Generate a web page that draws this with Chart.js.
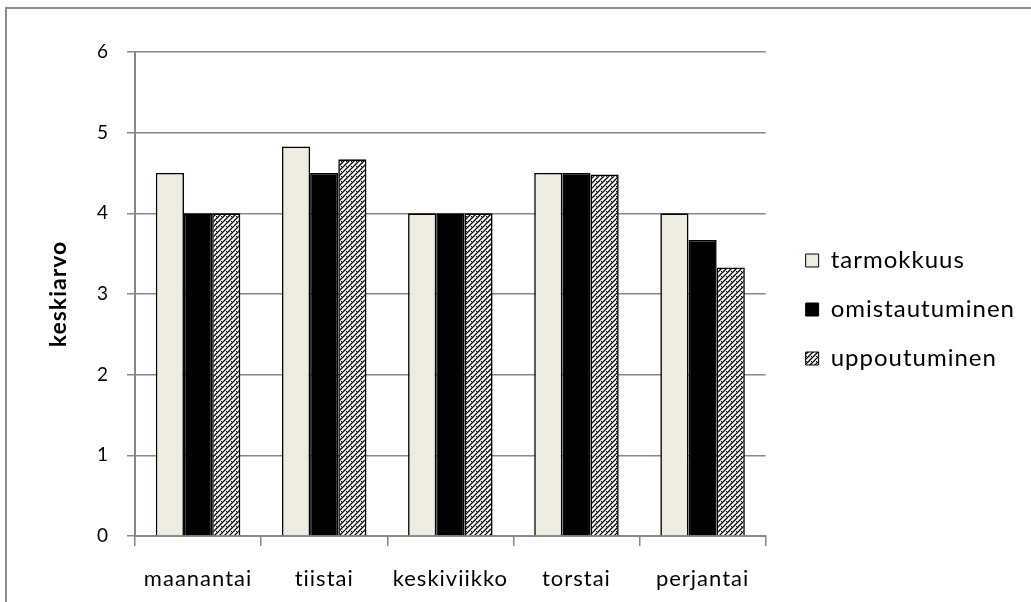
<!DOCTYPE html>
<html>
<head>
<meta charset="utf-8">
<script src="https://cdn.jsdelivr.net/npm/chart.js@4/dist/chart.umd.min.js"></script>
<style>
  html, body { margin: 0; padding: 0; background: #fff; }
  #wrap { position: relative; width: 1031px; height: 602px; }
</style>
</head>
<body>
<div id="wrap"><canvas id="c" width="1031" height="602"></canvas></div>
<script>
// Weekday averages for three work-engagement dimensions
const categories = ['maanantai', 'tiistai', 'keskiviikko', 'torstai', 'perjantai'];
const seriesNames = ['tarmokkuus', 'omistautuminen', 'uppoutuminen'];
const tarmokkuus = [4.5, 4.83, 4.0, 4.5, 4.0];
const omistautuminen = [4.0, 4.5, 4.0, 4.5, 3.67];
const uppoutuminen = [4.0, 4.67, 4.0, 4.48, 3.33];
const yTicks = [0, 1, 2, 3, 4, 5, 6];

const FONT = 'Lato, "Open Sans", "DejaVu Sans", sans-serif';
const GRID = '#868686';

// Diagonal hatch fill for the third series
function makeHatch() {
  const t = document.createElement('canvas');
  t.width = 5; t.height = 5;
  const g = t.getContext('2d');
  g.fillStyle = '#fff';
  g.fillRect(0, 0, 5, 5);
  g.strokeStyle = '#000';
  g.lineWidth = 1.3;
  g.beginPath();
  g.moveTo(-1, 6); g.lineTo(6, -1);
  g.moveTo(-1, 1); g.lineTo(1, -1);
  g.moveTo(4, 6); g.lineTo(6, 4);
  g.stroke();
  g.fillStyle = '#000';
  g.fillRect(1, 1, 1, 1);
  return g.createPattern(t, 'repeat');
}
const hatch = makeHatch();

// Slightly spaced lettering for every text on the canvas
const spacingPlugin = {
  id: 'spacing',
  beforeLayout(chart) { chart.ctx.letterSpacing = '1px'; },
  beforeDraw(chart) { chart.ctx.letterSpacing = '1px'; }
};

// Grey frame around the whole chart
const framePlugin = {
  id: 'frame',
  beforeDraw(chart) {
    const ctx = chart.ctx;
    ctx.save();
    ctx.fillStyle = '#fff';
    ctx.fillRect(0, 0, chart.width, chart.height);
    ctx.strokeStyle = '#8c8c8c';
    ctx.lineWidth = 2;
    ctx.beginPath();
    ctx.moveTo(6, 640);
    ctx.lineTo(6, 8);
    ctx.lineTo(1040, 8);
    ctx.stroke();
    ctx.restore();
  }
};

new Chart(document.getElementById('c'), {
  type: 'bar',
  data: {
    labels: categories,
    datasets: [
      { label: seriesNames[0], data: tarmokkuus, backgroundColor: '#EEECE1', borderColor: '#000', borderWidth: 1.6 },
      { label: seriesNames[1], data: omistautuminen, backgroundColor: '#000', borderColor: '#000', borderWidth: 1.6 },
      { label: seriesNames[2], data: uppoutuminen, backgroundColor: hatch, borderColor: '#000', borderWidth: 1.6 }
    ]
  },
  options: {
    responsive: false,
    animation: false,
    layout: { padding: { left: 40, top: 52, right: 6, bottom: 0 } },
    datasets: { bar: { categoryPercentage: 0.67, barPercentage: 1.0, borderSkipped: 'bottom' } },
    plugins: {
      legend: {
        position: 'right',
        align: 'start',
        maxWidth: 320,
        title: { display: true, text: ' ', font: { size: 10, lineHeight: 1.25 }, padding: { top: 159, bottom: 0 } },
        labels: {
          font: { family: FONT, size: 24 },
          color: '#000',
          boxWidth: 13,
          boxHeight: 13,
          padding: 25,
          generateLabels(chart) {
            return chart.data.datasets.map((d, i) => ({
              text: d.label,
              fillStyle: d.backgroundColor,
              strokeStyle: '#000',
              lineWidth: 1,
              hidden: false,
              datasetIndex: i,
              fontColor: '#000'
            }));
          }
        }
      },
      tooltip: { enabled: false }
    },
    scales: {
      x: {
        grid: { display: true, offset: true, drawOnChartArea: false, color: GRID, tickLength: 10, lineWidth: 1.5 },
        border: { display: true, color: GRID, width: 2 },
        ticks: { font: { family: FONT, size: 22 }, color: '#000', padding: 20, maxRotation: 0, autoSkip: false },
        afterFit(s) { s.height = 66; }
      },
      y: {
        min: 0, max: 6,
        afterBuildTicks(s) { s.ticks = yTicks.map(v => ({ value: v })); },
        grid: { color: GRID, tickLength: 8, lineWidth: 1.5 },
        border: { display: true, color: GRID, width: 2 },
        ticks: { font: { family: FONT, size: 19 }, color: '#000', padding: 18 },
        title: { display: true, text: 'keskiarvo', font: { family: FONT, size: 23, weight: 'bold' }, color: '#000', padding: { top: 5, bottom: 0 } },
        afterFit(s) { s.width = 95; }
      },
      // empty spacer between the plot and the legend
      gap: {
        position: 'right',
        display: true,
        grid: { display: false },
        border: { display: false },
        ticks: { display: false },
        afterFit(s) { s.width = 15; }
      }
    }
  },
  plugins: [spacingPlugin, framePlugin]
});
</script>
</body>
</html>
